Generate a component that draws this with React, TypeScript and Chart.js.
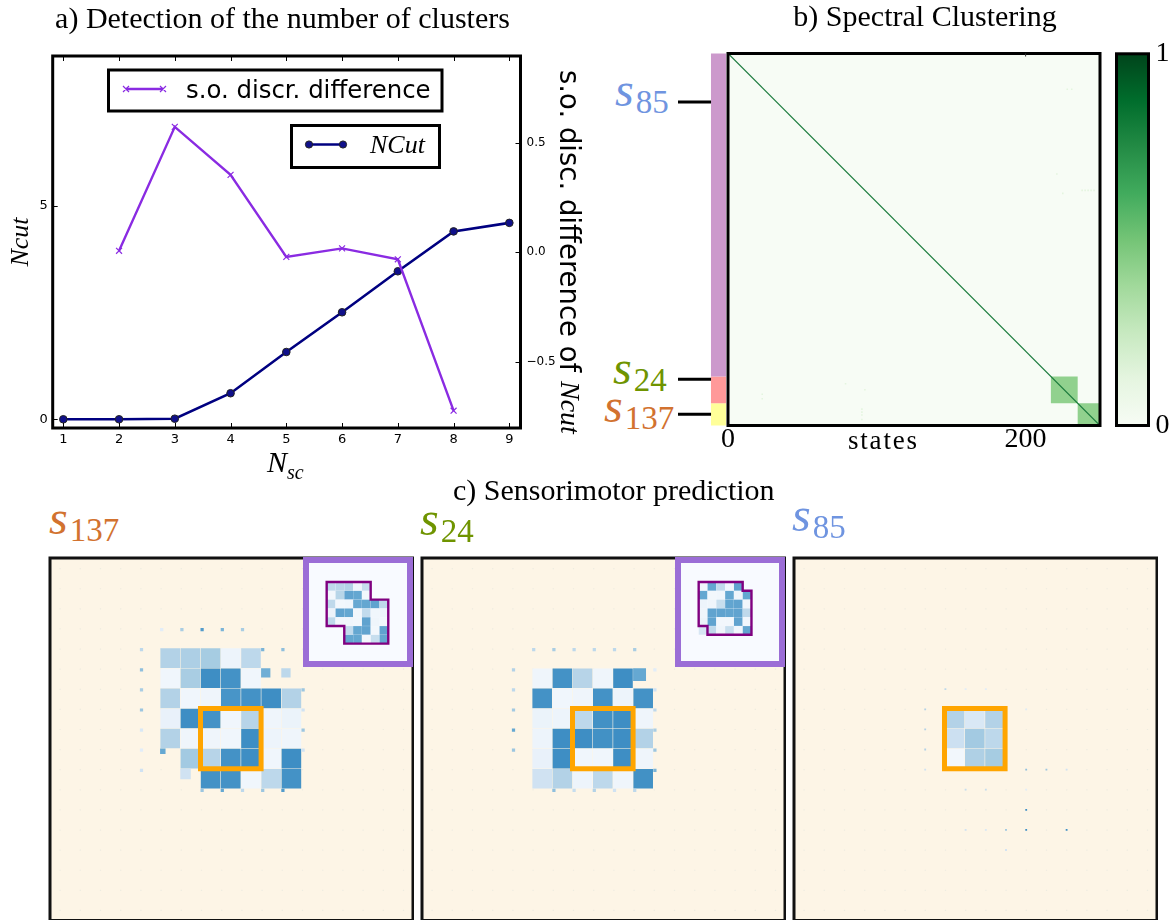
import React, { useEffect, useRef } from "react";
import { Chart, registerables } from "chart.js";

Chart.register(...registerables);

/* ---------- panel a data ---------- */
const nscValues = [1, 2, 3, 4, 5, 6, 7, 8, 9];
const ncutValues = [0, 0, 0.014, 0.61, 1.576, 2.506, 3.466, 4.4, 4.6];
const discrNsc = [2, 3, 4, 5, 6, 7, 8];
const discrValues = [0.007, 0.572, 0.353, -0.021, 0.018, -0.032, -0.722];

/* ---------- panel b data ---------- */
const stateCount = 250;
const greensStops = ["#f7fcf5", "#e5f5e0", "#c7e9c0", "#a1d99b", "#74c476", "#41ab5d", "#238b45", "#006d2c", "#00441b"];
const clusterEdges = [0, 217, 235, 250];
const clusterColors = ["#cc99cc", "#ff9999", "#ffff99"];
const markedStates = [32.6, 219, 242.5];
const blockStart = [217, 235];
const blockEnd = [235, 250];
const blockValue = [0.42, 0.42];
const faintStates: number[][] = [
  [228, 24], [231, 24], [221, 81], [225, 94], [238, 92], [240, 92], [242, 92], [244, 92], [246, 92],
  [23, 229], [23, 232], [79, 222], [92, 226], [90, 239], [90, 241], [90, 243], [90, 246],
];

/* ---------- panel c data: [column, row, value] ---------- */
const bluesStops = ["#f4f8fd", "#d0e2f2", "#a9cde3", "#8fbfdd", "#65a8d2", "#3e8ec4"];
const dotColumns = [0, 1, 2, 3, 4, 5, 6, 7, 8, 9, 10, 11, 12, 13, 14, 15, 16, 17];
const dotRows = [0, 1, 2, 3, 4, 5, 6, 7, 8, 9, 10, 11, 12, 13, 14, 15, 16, 17];

const cells137: number[][] = [
  [5, 4, 0.35], [6, 4, 0.38], [7, 4, 0.42], [8, 4, 0.04], [9, 4, 0.3],
  [5, 5, 0.02], [6, 5, 0.4], [7, 5, 1], [8, 5, 0.97], [9, 5, 0.02],
  [5, 6, 0.35], [6, 6, 0.02], [7, 6, 0.03], [8, 6, 0.95], [9, 6, 0.97], [10, 6, 1], [11, 6, 0.35],
  [5, 7, 0.06], [6, 7, 1], [7, 7, 0.97], [8, 7, 0.02], [9, 7, 0.33], [10, 7, 0.03], [11, 7, 0.05],
  [5, 8, 0.35], [6, 8, 0.03], [7, 8, 0.03], [8, 8, 0.02], [9, 8, 1], [10, 8, 0.04], [11, 8, 0.03],
  [6, 9, 0.45], [7, 9, 0.33], [8, 9, 0.97], [9, 9, 1], [10, 9, 0.02], [11, 9, 1],
  [7, 10, 0.97], [8, 10, 0.97], [9, 10, 0.02], [10, 10, 0.3], [11, 10, 0.97],
];
const partial137: number[][] = [[10, 5, 0.75, 0.46], [11, 5, 0.3, 0.46], [5, 9, 0.8, 0.27], [6, 10, 0.2, 0.52]];
const dots137: number[][] = [
  [6, 3, 0.4], [7, 3, 0.9], [8, 3, 0.7], [9, 3, 0.4], [5, 3, 0.1],
  [4, 4, 0.3], [4, 5, 0.6], [4, 6, 0.4], [4, 7, 0.5], [4, 8, 0.15], [4, 9, 0.1], [4, 10, 0.2],
  [10, 4, 0.7], [11, 4, 0.6], [12, 6, 0.5], [12, 7, 0.2], [12, 8, 0.5], [12, 9, 0.2],
  [7, 11, 0.5], [8, 11, 0.8], [9, 11, 0.3], [10, 11, 0.5], [11, 11, 0.9],
];
const contour137: number[][] = [[5, 4], [10, 4], [10, 6], [12, 6], [12, 11], [7, 11], [7, 9], [5, 9], [5, 4]];

const cells24: number[][] = [
  [5, 5, 0.03], [6, 5, 0.97], [7, 5, 0.33], [8, 5, 0.03], [9, 5, 1],
  [5, 6, 0.97], [6, 6, 0.02], [7, 6, 0.03], [8, 6, 0.97], [9, 6, 0.04], [10, 6, 0.97],
  [5, 7, 0.05], [6, 7, 0.04], [7, 7, 0.3], [8, 7, 0.98], [9, 7, 1], [10, 7, 0.03],
  [5, 8, 0.04], [6, 8, 1], [7, 8, 1], [8, 8, 0.98], [9, 8, 1], [10, 8, 0.35],
  [5, 9, 0.06], [6, 9, 1], [7, 9, 0.02], [8, 9, 0.02], [9, 9, 1], [10, 9, 0.03],
  [5, 10, 0.2], [6, 10, 0.35], [7, 10, 0.04], [8, 10, 0.3], [9, 10, 0.03], [10, 10, 0.98],
];
const partial24: number[][] = [[10, 5, 0.8, 0.64]];
const dots24: number[][] = [
  [5, 4, 0.3], [6, 4, 0.4], [7, 4, 0.3], [8, 4, 0.3], [9, 4, 0.3], [10, 4, 0.4],
  [4, 5, 0.35], [4, 6, 0.3], [4, 7, 0.45], [4, 8, 0.8], [4, 9, 0.5],
  [11, 5, 0.1], [11, 6, 0.2], [11, 7, 0.3], [11, 8, 0.4], [11, 9, 0.5], [11, 10, 0.7],
  [6, 11, 0.6], [7, 11, 0.25], [8, 11, 0.35], [9, 11, 0.2], [10, 11, 0.3],
];
const contour24: number[][] = [[5, 5], [10, 5], [10, 6], [11, 6], [11, 11], [6, 11], [6, 10], [5, 10], [5, 5]];

const cells85: number[][] = [
  [7, 7, 0.35], [8, 7, 0.15], [9, 7, 0.35],
  [7, 8, 0.22], [8, 8, 0.45], [9, 8, 0.3],
  [7, 9, 0.01], [8, 9, 0.37], [9, 9, 0.42],
];
const dots85: number[][] = [
  [7, 6, 0.3], [8, 6, 0.1], [9, 6, 0.1], [6, 7, 0.35], [6, 8, 0.35], [6, 9, 0.35], [6, 10, 0.2],
  [11, 7, 0.12], [11, 10, 0.6], [12, 10, 0.5], [13, 10, 0.2], [8, 11, 0.25], [9, 11, 0.25], [11, 11, 0.1],
  [11, 12, 1], [8, 13, 0.2], [9, 13, 0.15], [10, 13, 0.5], [11, 13, 1], [13, 13, 1], [10, 14, 0.2],
];
const focusSquare: number[][] = [[7, 7], [10, 7], [10, 10], [7, 10], [7, 7]];

/* ---------- helpers ---------- */
const hexToRgb = (h: string) => [1, 3, 5].map((i) => parseInt(h.slice(i, i + 2), 16));
const ramp = (stops: string[], v: number, alpha = 1) => {
  const p = Math.min(Math.max(v, 0), 1) * (stops.length - 1);
  const i = Math.min(Math.floor(p), stops.length - 2);
  const a = hexToRgb(stops[i]);
  const b = hexToRgb(stops[i + 1]);
  const c = a.map((q, k) => Math.round(q + (b[k] - q) * (p - i)));
  return `rgba(${c[0]},${c[1]},${c[2]},${alpha})`;
};

const framePlugin = (bg: string | null, color: string, width: number) => ({
  id: "plotFrame",
  beforeDatasetsDraw(chart: any) {
    if (!bg) return;
    const { left, top, right, bottom } = chart.chartArea;
    chart.ctx.save();
    chart.ctx.fillStyle = bg;
    chart.ctx.fillRect(left, top, right - left, bottom - top);
    chart.ctx.restore();
  },
  afterDatasetsDraw(chart: any) {
    const { left, top, right, bottom } = chart.chartArea;
    const ctx = chart.ctx;
    ctx.save();
    ctx.strokeStyle = color;
    ctx.lineWidth = width;
    ctx.lineJoin = "miter";
    ctx.strokeRect(left, top, right - left, bottom - top);
    ctx.restore();
  },
});

const innerTicks = {
  id: "innerTicks",
  afterDatasetsDraw(chart: any) {
    const { left, top, right, bottom } = chart.chartArea;
    const ctx = chart.ctx;
    ctx.save();
    ctx.strokeStyle = "#000";
    ctx.lineWidth = 1;
    ctx.beginPath();
    chart.scales.x.ticks.forEach((t: any) => {
      const p = Math.round(chart.scales.x.getPixelForValue(t.value)) + 0.5;
      ctx.moveTo(p, bottom);
      ctx.lineTo(p, bottom - 5);
      ctx.moveTo(p, top);
      ctx.lineTo(p, top + 5);
    });
    chart.scales.y.ticks.forEach((t: any) => {
      const p = Math.round(chart.scales.y.getPixelForValue(t.value)) + 0.5;
      ctx.moveTo(left, p);
      ctx.lineTo(left + 5, p);
    });
    chart.scales.y1.ticks.forEach((t: any) => {
      const p = Math.round(chart.scales.y1.getPixelForValue(t.value)) + 0.5;
      ctx.moveTo(right, p);
      ctx.lineTo(right - 5, p);
    });
    ctx.stroke();
    ctx.restore();
  },
};

const OFFSET_A = 25;
const legendBoxes = {
  id: "legendBoxes",
  afterDraw(chart: any) {
    const ctx = chart.ctx;
    const X = (v: number) => v + OFFSET_A;
    ctx.save();
    const box = (x0: number, y0: number, x1: number, y1: number) => {
      ctx.fillStyle = "#fff";
      ctx.strokeStyle = "#000";
      ctx.lineWidth = 3;
      ctx.fillRect(X(x0), y0, x1 - x0, y1 - y0);
      ctx.strokeRect(X(x0), y0, x1 - x0, y1 - y0);
    };
    box(108.5, 70, 442, 111);
    box(291.5, 125.5, 439.5, 167.5);
    // first sample
    ctx.strokeStyle = "#8a2be2";
    ctx.lineWidth = 2.4;
    ctx.beginPath();
    ctx.moveTo(X(126), 89);
    ctx.lineTo(X(163), 89);
    ctx.stroke();
    ctx.lineWidth = 1.2;
    ctx.beginPath();
    for (const x of [126, 163]) {
      ctx.moveTo(X(x) - 3, 86);
      ctx.lineTo(X(x) + 3, 92);
      ctx.moveTo(X(x) + 3, 86);
      ctx.lineTo(X(x) - 3, 92);
    }
    ctx.stroke();
    // second sample
    ctx.strokeStyle = "#000080";
    ctx.lineWidth = 2.6;
    ctx.beginPath();
    ctx.moveTo(X(309), 144.5);
    ctx.lineTo(X(343), 144.5);
    ctx.stroke();
    for (const x of [309, 343]) {
      ctx.beginPath();
      ctx.arc(X(x), 144.5, 3.6, 0, Math.PI * 2);
      ctx.fillStyle = "#10108a";
      ctx.fill();
      ctx.lineWidth = 1;
      ctx.strokeStyle = "#222";
      ctx.stroke();
    }
    ctx.fillStyle = "#000";
    ctx.textBaseline = "alphabetic";
    ctx.font = "24.4px 'DejaVu Sans'";
    ctx.fillText("s.o. discr. difference", X(186), 98);
    ctx.font = "italic 26px 'Liberation Serif'";
    ctx.fillText("NCut", X(370), 153);
    ctx.restore();
  },
};

function Canvas({ left, top, width, height, config }: any) {
  const ref = useRef<HTMLCanvasElement>(null);
  useEffect(() => {
    const chart = new Chart(ref.current as HTMLCanvasElement, config);
    return () => chart.destroy();
  }, []);
  return (
    <canvas
      ref={ref}
      width={width}
      height={height}
      style={{ position: "absolute", left, top, width, height, display: "block" }}
    />
  );
}

const base = {
  responsive: false,
  maintainAspectRatio: false,
  animation: false as const,
  events: [] as string[],
};
const noLegend = { legend: { display: false }, tooltip: { enabled: false } };
const hiddenAxis = (min: number, max: number, reverse = false) => ({
  type: "linear" as const,
  display: false,
  min,
  max,
  reverse,
});
const fixW = (w: number) => (s: any) => {
  s.width = w;
};
const fixH = (h: number) => (s: any) => {
  s.height = h;
};
const noGrid = { display: false, drawTicks: false };

/* ---------- panel a ---------- */
const chartA = {
  type: "scatter",
  data: {
    datasets: [
      {
        label: "NCut",
        data: nscValues.map((x, i) => ({ x, y: ncutValues[i] })),
        yAxisID: "y",
        showLine: true,
        borderColor: "#000080",
        borderWidth: 2.6,
        pointStyle: "circle",
        pointRadius: 3.8,
        pointBackgroundColor: "#10108a",
        pointBorderColor: "#222",
        pointBorderWidth: 1,
        order: 2,
      },
      {
        label: "s.o. discr. difference",
        data: discrNsc.map((x, i) => ({ x, y: discrValues[i] })),
        yAxisID: "y1",
        showLine: true,
        borderColor: "#8a2be2",
        borderWidth: 2.4,
        pointStyle: "crossRot",
        pointRadius: 4.2,
        pointBorderColor: "#8a2be2",
        pointBorderWidth: 1.2,
        order: 1,
      },
    ],
  },
  options: {
    ...base,
    layout: { autoPadding: false },
    plugins: {
      ...noLegend,
      title: {
        display: true,
        text: "a) Detection of the number of clusters",
        color: "#000",
        font: { family: "'Liberation Serif'", size: 30, weight: "normal", lineHeight: 1.2 },
        padding: { top: 2, bottom: 18 },
      },
    },
    scales: {
      x: {
        type: "linear",
        min: 0.81,
        max: 9.2,
        afterFit: fixH(52),
        grid: noGrid,
        border: { display: false },
        ticks: {
          stepSize: 1,
          includeBounds: false,
          padding: 4,
          maxRotation: 0,
          color: "#000",
          font: { family: "'DejaVu Sans'", size: 13 },
        },
      },
      y: {
        type: "linear",
        position: "left",
        min: -0.204,
        max: 8.508,
        afterFit: fixW(52.7 + OFFSET_A),
        grid: noGrid,
        border: { display: false },
        title: {
          display: true,
          text: "Ncut",
          color: "#000",
          font: { family: "'Liberation Serif'", style: "italic", size: 26, weight: "normal" },
          padding: { top: 31, bottom: 0 },
        },
        ticks: { stepSize: 5, includeBounds: false, padding: 5, color: "#000", font: { family: "'DejaVu Sans'", size: 13 } },
      },
      y1: {
        type: "linear",
        position: "right",
        min: -0.801,
        max: 0.895,
        afterFit: fixW(590 - 520.5),
        grid: noGrid,
        border: { display: false },
        ticks: {
          stepSize: 0.5,
          includeBounds: false,
          padding: 6,
          color: "#000",
          font: { family: "'DejaVu Sans'", size: 12 },
          callback: (v: number) => v.toFixed(1).replace("-", "\u2212"),
        },
      },
    },
  },
  plugins: [framePlugin(null, "#000", 3), innerTicks, legendBoxes],
};

/* ---------- panel b ---------- */
const cellRadius = (size: (ctx: any) => number) => (ctx: any) => {
  const sc = ctx.chart.scales.x;
  const unit = sc.getPixelForValue(1) - sc.getPixelForValue(0);
  return (size(ctx) * unit) / Math.SQRT2;
};

const chartB = {
  type: "scatter",
  data: {
    datasets: [
      ...clusterColors.map((c, i) => ({
        label: `cluster ${i + 1}`,
        data: [
          { x: -6.4, y: clusterEdges[i] },
          { x: -6.4, y: clusterEdges[i + 1] },
        ],
        showLine: true,
        clip: false,
        borderColor: c,
        borderWidth: 15,
        borderCapStyle: "butt",
        pointRadius: 0,
        order: 5,
      })),
      ...markedStates.map((s) => ({
        label: "marked state",
        data: [
          { x: -33.6, y: s },
          { x: -11.4, y: s },
        ],
        showLine: true,
        clip: false,
        borderColor: "#000",
        borderWidth: 3,
        borderCapStyle: "butt",
        pointRadius: 0,
        order: 4,
      })),
      {
        label: "blocks",
        data: blockStart.map((s, i) => ({ x: (s + blockEnd[i]) / 2, y: (s + blockEnd[i]) / 2, v: blockValue[i], side: blockEnd[i] - s })),
        pointStyle: "rect",
        pointRadius: cellRadius((c) => c.raw.side),
        pointBackgroundColor: (c: any) => ramp(greensStops, c.raw.v),
        pointBorderWidth: 0,
        order: 3,
      },
      {
        label: "faint",
        data: faintStates.map(([x, y]) => ({ x, y })),
        pointStyle: "rect",
        pointRadius: 1.1,
        pointBackgroundColor: ramp(greensStops, 0.13),
        pointBorderWidth: 0,
        order: 2,
      },
      {
        label: "diagonal",
        data: [
          { x: 0, y: 0 },
          { x: stateCount, y: stateCount },
        ],
        showLine: true,
        borderColor: "#1a7a3c",
        borderWidth: 1.2,
        pointRadius: 0,
        order: 1,
      },
    ],
  },
  options: {
    ...base,
    layout: { autoPadding: false },
    plugins: {
      ...noLegend,
      title: {
        display: true,
        text: "b) Spectral Clustering",
        color: "#000",
        font: { family: "'Liberation Serif'", size: 30, weight: "normal", lineHeight: 1.2 },
        padding: { top: 0, bottom: 17.5 },
      },
    },
    scales: {
      x: {
        type: "linear",
        min: 0,
        max: stateCount,
        afterFit: fixH(44.5),
        grid: noGrid,
        border: { display: false },
        ticks: {
          stepSize: 200,
          includeBounds: false,
          padding: -3,
          maxRotation: 0,
          color: "#000",
          font: { family: "'Liberation Serif'", size: 28 },
        },
      },
      y: {
        type: "linear",
        min: 0,
        max: stateCount,
        reverse: true,
        afterFit: fixW(50),
        grid: noGrid,
        border: { display: false },
        ticks: { display: false },
      },
      yPad: {
        type: "linear",
        position: "right",
        min: 0,
        max: 1,
        afterFit: fixW(72),
        grid: noGrid,
        border: { display: false },
        ticks: { display: false },
      },
    },
  },
  plugins: [
    framePlugin(greensStops[0], "#000", 3),
    {
      id: "topTick",
      afterDatasetsDraw(chart: any) {
        const p = chart.scales.x.getPixelForValue(200);
        chart.ctx.save();
        chart.ctx.fillStyle = "#333";
        chart.ctx.fillRect(p - 0.5, chart.chartArea.top, 1, 3);
        chart.ctx.restore();
      },
    },
  ],
};

/* ---------- colour bar ---------- */
const chartBar = {
  type: "bar",
  data: {
    labels: ["Greens"],
    datasets: [
      {
        label: "scale",
        data: [[0, 1]],
        barPercentage: 1,
        categoryPercentage: 1,
        backgroundColor: (c: any) => {
          const area = c.chart.chartArea;
          if (!area) return greensStops[0];
          const g = c.chart.ctx.createLinearGradient(0, area.bottom, 0, area.top);
          greensStops.forEach((s, i) => g.addColorStop(i / (greensStops.length - 1), s));
          return g;
        },
      },
    ],
  },
  options: {
    ...base,
    layout: { autoPadding: false, padding: { left: 11.5, top: 23.5, bottom: 24.5 } },
    plugins: noLegend,
    scales: {
      x: { display: false },
      y: {
        type: "linear",
        position: "right",
        min: 0,
        max: 1,
        afterFit: fixW(23.5),
        grid: noGrid,
        border: { display: false },
        ticks: {
          stepSize: 1,
          padding: 7,
          color: "#000",
          font: { family: "'Liberation Serif'", size: 28 },
        },
      },
    },
  },
  plugins: [framePlugin(null, "#000", 3)],
};

/* ---------- panels c ---------- */
const cellPoints = (cells: number[][], partial: number[][], dots: number[][], dotSize: number) => {
  const full = cells.map(([c, r, v]) => ({ x: c + 0.5, y: r + 0.5, v, f: 0.97 }));
  const part = partial.map(([c, r, v, f]) => ({ x: c + f / 2, y: r + f / 2, v, f }));
  const small = dots.map(([c, r, v]) => ({ x: c + dotSize / 2, y: r + dotSize / 2, v, f: dotSize }));
  return [...full, ...part, ...small];
};

const panelChart = (cells: number[][], partial: number[][], dots: number[][], dotSize: number) => ({
  type: "scatter",
  data: {
    datasets: [
      {
        label: "background dots",
        data: dotColumns.flatMap((x) => dotRows.map((y) => ({ x: x + 0.05, y: y + 0.05 }))),
        pointStyle: "rect",
        pointRadius: 0.85,
        pointBackgroundColor: "rgba(120,170,190,0.12)",
        pointBorderWidth: 0,
        order: 3,
      },
      {
        label: "cells",
        data: cellPoints(cells, partial, dots, dotSize),
        pointStyle: "rect",
        pointRadius: cellRadius((c) => c.raw.f),
        pointBackgroundColor: (c: any) => ramp(bluesStops, c.raw.v),
        pointBorderWidth: 0,
        order: 2,
      },
      {
        label: "focus",
        data: focusSquare.map(([x, y]) => ({ x, y })),
        showLine: true,
        borderColor: "#ffa500",
        borderWidth: 5,
        borderJoinStyle: "miter",
        borderCapStyle: "square",
        pointRadius: 0,
        order: 1,
      },
    ],
  },
  options: {
    ...base,
    layout: { autoPadding: false, padding: { left: 2, top: 2, right: 1, bottom: 1.5 } },
    plugins: noLegend,
    scales: { x: hiddenAxis(-0.45, 17.52), y: hiddenAxis(-0.48, 17.55, true) },
  },
  plugins: [framePlugin("#fdf5e6", "#111", 3)],
});

const insetChart = (cells: number[][], contour: number[][], yMin: number) => ({
  type: "scatter",
  data: {
    datasets: [
      {
        label: "inset cells",
        data: cells.map(([c, r, v]) => ({ x: c + 0.5, y: r + 0.5, v })),
        pointStyle: "rect",
        pointRadius: cellRadius(() => 0.98),
        pointBackgroundColor: (c: any) => ramp(bluesStops, c.raw.v * 0.9, 0.92),
        pointBorderWidth: 0,
        order: 2,
      },
      {
        label: "contour",
        data: contour.map(([x, y]) => ({ x, y })),
        showLine: true,
        borderColor: "#800080",
        borderWidth: 2.4,
        borderJoinStyle: "miter",
        borderCapStyle: "square",
        pointRadius: 0,
        order: 1,
      },
    ],
  },
  options: {
    ...base,
    layout: { autoPadding: false, padding: 3 },
    plugins: noLegend,
    scales: { x: hiddenAxis(2.65, 14.47), y: hiddenAxis(yMin, yMin + 11.82, true) },
  },
  plugins: [framePlugin("#f8faff", "#9b6dd6", 6)],
});

/* ---------- labels ---------- */
const serif = "'Liberation Serif'";
function Sym({ x, y, sub, color }: { x: number; y: number; sub: string; color: string }) {
  return (
    <div
      style={{
        position: "absolute",
        left: x,
        top: y,
        color,
        lineHeight: 1,
        whiteSpace: "nowrap",
        fontFamily: serif,
      }}
    >
      <span style={{ fontStyle: "italic", fontSize: 48 }}>s</span>
      <span style={{ fontSize: 33, position: "relative", top: 7, left: 2 }}>{sub}</span>
    </div>
  );
}

export default function App() {
  useEffect(() => {
    document.body.style.margin = "0";
  }, []);
  return (
    <div style={{ position: "absolute", left: 0, top: 0, width: 1172, height: 920, overflow: "hidden", background: "#fff" }}>
      <Canvas left={-OFFSET_A} top={0} width={615} height={480} config={chartA} />
      <div
        style={{
          position: "absolute",
          left: 554,
          top: 70,
          writingMode: "vertical-rl",
          fontFamily: "'DejaVu Sans'",
          fontSize: 27.5,
          lineHeight: "32px",
          whiteSpace: "nowrap",
          color: "#000",
        }}
      >
        s.o. disc. difference of <span style={{ fontFamily: serif, fontStyle: "italic", fontSize: 28 }}>Ncut</span>
      </div>
      <div style={{ position: "absolute", left: 267, top: 447, fontFamily: serif, fontStyle: "italic", fontSize: 30, lineHeight: 1, color: "#000" }}>
        N<sub style={{ fontSize: 20, lineHeight: 0 }}>sc</sub>
      </div>

      <Canvas left={678} top={0} width={494} height={470} config={chartB} />
      <Canvas left={1105} top={30} width={67} height={420} config={chartBar} />
      <div style={{ position: "absolute", left: 848, top: 427, fontFamily: serif, fontSize: 27, letterSpacing: 1.8, lineHeight: 1, color: "#000" }}>states</div>
      <Sym x={615} y={66} sub="85" color="#6f94e0" />
      <Sym x={613} y={344} sub="24" color="#6f9400" />
      <Sym x={604} y={382} sub="137" color="#d2722f" />

      <div style={{ position: "absolute", left: 453, top: 472, fontFamily: serif, fontSize: 30, lineHeight: 1.2, whiteSpace: "nowrap", color: "#000" }}>
        c) Sensorimotor prediction
      </div>
      <Sym x={49} y={494} sub="137" color="#d2722f" />
      <Sym x={420} y={495} sub="24" color="#6f9400" />
      <Sym x={792} y={491} sub="85" color="#6f94e0" />

      <Canvas left={48} top={556} width={366} height={366} config={panelChart(cells137, partial137, dots137, 0.16)} />
      <Canvas left={420} top={556} width={366} height={366} config={panelChart(cells24, partial24, dots24, 0.16)} />
      <Canvas left={792} top={556} width={366} height={366} config={panelChart(cells85, [], dots85, 0.09)} />

      <Canvas left={303} top={557} width={110} height={110} config={insetChart(cells137.filter((c) => c[1] < 9 || c[0] >= 7), contour137, 1.5)} />
      <Canvas left={675} top={557} width={110} height={110} config={insetChart(cells24, contour24, 2.5)} />
    </div>
  );
}
